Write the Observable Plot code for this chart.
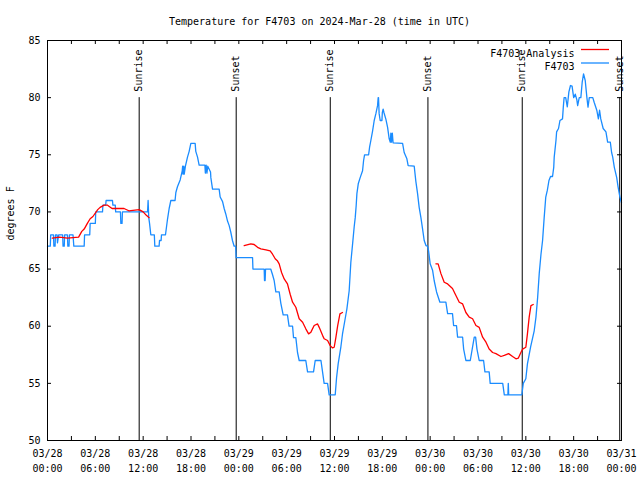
<!DOCTYPE html>
<html>
<head>
<meta charset="utf-8">
<script src="https://cdn.jsdelivr.net/npm/d3@7"></script>
<script src="https://cdn.jsdelivr.net/npm/@observablehq/plot@0.6"></script>
<style>
html,body{margin:0;padding:0;background:#fff;}
</style>
</head>
<body>
<div id="chart"></div>
<script>
// ---- data (hours since 2024-03-28 00:00 UTC) ----
const titleText = "Temperature for F4703 on 2024-Mar-28 (time in UTC)";
const yLabel = "degrees F";
const seriesNames = ["F4703 Analysis", "F4703"];
const seriesColors = ["#ff0000", "#1a8cff"];

const obsHours = [0,0.35,0.4,0.75,0.8,0.95,1.0,1.2,1.25,1.4,1.9,1.95,2.1,2.15,2.5,2.55,2.7,2.75,3.2,3.3,4.6,4.65,5.3,5.35,6.0,6.05,6.9,6.95,7.3,7.35,8.15,8.2,8.5,8.55,9.15,9.2,9.35,9.4,12.55,12.62,12.7,12.8,12.96,13.4,13.46,14.0,14.05,14.25,14.3,14.8,15.06,15.26,15.47,16.0,16.1,16.3,16.64,16.9,16.95,17.0,17.1,17.15,17.3,17.56,17.77,17.98,18.52,18.6,18.82,19.02,19.74,19.8,19.9,20.0,20.1,20.45,20.49,20.7,21.53,21.66,21.96,22.16,22.37,22.58,22.79,23.0,23.2,23.41,23.6,23.66,25.72,25.77,27.18,27.22,27.3,27.35,28.0,28.23,28.43,28.64,29.06,29.27,29.56,30.1,30.3,30.74,30.86,31.15,31.36,31.57,32.4,32.62,33.37,33.58,34.3,34.5,34.7,35.13,35.33,36.09,36.26,36.46,36.8,37.0,37.3,37.55,37.84,38.05,38.27,38.47,38.6,38.72,38.81,38.98,39.22,39.52,39.65,39.77,40.28,40.4,40.56,40.78,40.98,41.19,41.4,41.48,41.52,41.6,41.73,41.95,42.0,42.1,42.2,42.45,42.66,42.86,43.0,43.07,43.15,43.25,43.35,44.54,44.74,45.08,45.24,46.0,46.2,46.42,46.62,46.84,47.05,47.25,47.47,47.68,47.8,48.0,48.3,48.5,48.8,49.22,49.97,50.19,50.8,50.94,51.3,51.44,52.07,52.2,52.48,53.03,53.32,53.53,53.7,53.87,54.15,54.7,54.87,55.4,55.53,57.1,57.3,57.75,57.8,57.85,59.5,59.68,60.0,60.2,60.6,61.05,61.27,61.48,61.68,61.9,62.1,62.3,62.5,62.7,62.9,63.1,63.35,63.5,63.56,63.78,63.86,64.1,64.28,64.6,64.7,64.8,65.0,65.2,65.4,65.6,65.8,66.0,66.2,66.4,66.5,66.7,66.9,67.07,67.24,67.45,67.66,67.8,67.96,68.4,68.57,68.9,69.1,69.25,69.4,69.7,70.05,70.26,70.6,70.76,70.9,71.1,71.4,71.57,71.8,72.0];
const obsTemps = [67,67,68,68,67,67,68,68,67.3,68,68,67,67,68,68,67,67,68,68,67,67,68,68,69,69,70,70,70.6,70.6,71,71,70.6,70.6,70,70,69,69,70,70,71,69.5,69,68,68,67,67,67.5,67.5,68,68,69.4,70.3,71,71,71.7,72.2,72.8,73.6,74,73.3,74,73.3,74,74.8,75.3,76,76,75.3,74.8,74.1,74.1,73.4,74.1,73.4,74,73.5,73,72,72,71.3,70.9,70.3,69.8,69.2,68.8,68.2,67.5,67,67,66,66,65,65,64,64,65,65,64.5,64,63,63,62,61,61,60,60,59,59,57.7,57,57,56,56,57,57,56,55,55,54,54,55.5,56.7,58.2,59.3,60.5,61.5,63.1,65.6,67.2,68.7,69.5,70.56,71.6,72.46,73.0,73.6,74.5,75,75,75.66,76.25,77.1,78,78.6,79.3,80,80,78.6,78,78,78.7,79.0,78.7,78.1,77.4,76.4,76.1,76.9,76.1,76.9,76.05,76,75.2,74.65,74.06,74,72.7,71.6,70.4,69.5,68.5,67.5,67.06,67,66.6,65.46,64.9,64,63,62.1,62.1,61.1,61.1,60.06,60.06,59.04,59.04,58,57,57,58.2,59.04,59.04,58,57,57,56,56,55,55,54,54,55,54,54,55,55.4,56.7,58.2,59.6,60.8,62.5,64.6,66.3,67.5,69.5,71.3,71.9,72.75,73.1,73.1,73.9,74.8,76.25,77.0,77.3,78,78.14,79.17,80,80,79.2,80.5,81.06,81,80,80.3,79.8,79.3,80,80,81.35,82.08,81.5,80,79.17,80,80,79.6,78.9,78.14,78.9,78.14,77.3,77,76.1,76.1,75.2,74.8,73.9,73,72.2,71.3,70.8];

const anaHours = [0.6,1.5,2.5,3.9,4.3,4.6,5.0,5.35,5.7,6.3,6.6,7.1,7.5,7.7,8.1,9.0,9.6,10.2,11.5,12.0,12.4,12.75,
  12.8,
  24.67,25.5,25.92,26.35,26.76,27.4,27.93,28.23,28.56,28.86,29.06,29.36,29.69,30.1,30.44,30.74,31.15,31.57,32.0,32.4,32.75,33.04,33.45,33.88,34.08,34.5,34.7,35.13,35.46,35.76,35.96,36.17,36.4,36.68,37.0,
  37.1,
  48.72,49.0,49.35,49.76,50.19,50.8,51.23,51.65,52.07,52.48,52.9,53.32,53.74,54.15,54.58,55.0,55.4,55.83,56.25,56.88,57.3,57.84,58.34,58.76,59.05,59.38,59.6,60.0,60.2,60.42,60.64,60.93];
const anaTemps = [67.7,67.8,67.7,67.8,68.3,68.5,69.0,69.4,69.6,70.2,70.4,70.6,70.6,70.5,70.3,70.3,70.3,70.1,70.2,70.0,69.7,69.5,
  null,
  67.06,67.2,67.15,66.9,66.77,66.68,66.6,66.3,65.9,65.7,65.45,64.7,64.14,63.7,62.8,62.1,61.66,60.65,60.35,59.77,59.33,59.48,60.06,60.2,59.9,59.2,58.9,58.75,58.3,58.1,58.16,59.0,60.06,61.08,61.2,
  null,
  65.46,65.46,64.6,63.85,63.7,63.3,62.69,62.1,61.95,61.2,60.8,60.65,60.06,59.9,59.04,58.6,58.0,57.7,57.6,57.35,57.44,57.6,57.35,57.15,57.2,57.7,58.0,58.16,59.33,60.8,61.8,61.9];

const sunLabels = ["Sunrise","Sunset","Sunrise","Sunset","Sunrise","Sunset"];
const sunHours = [11.5, 23.67, 35.47, 47.72, 59.55, 71.78];

const yTicks = [50,55,60,65,70,75,80,85];
const xTickStepHours = 3;
const xLabelStepHours = 6;
const totalHours = 72;

// ---- build ----
const base = Date.UTC(2024, 2, 28, 0, 0);
const toDate = h => new Date(base + h * 3600e3);

const obs = obsHours.map((h, i) => ({t: toDate(h), v: obsTemps[i]}));
const ana = anaHours.map((h, i) => ({t: toDate(h), v: anaTemps[i]}));
const sun = sunHours.map((h, i) => ({t: toDate(h), label: sunLabels[i]}));
const xTicks = d3.range(0, totalHours + 0.001, xTickStepHours).map(toDate);
const xLabels = d3.range(0, totalHours + 0.001, xLabelStepHours).map(toDate);

const W = 640, H = 480, mL = 47, mR = 19, mT = 40, mB = 40;
const innerW = W - mL - mR, innerH = H - mT - mB;
const font = "DejaVu Sans Mono";

const chart = Plot.plot({
  width: W, height: H,
  marginLeft: mL, marginRight: mR, marginTop: mT, marginBottom: mB,
  style: {fontFamily: font, fontSize: "10px", background: "#fff", color: "#000", overflow: "visible"},
  x: {type: "utc", domain: [toDate(0), toDate(totalHours)], axis: null},
  y: {domain: [50, 85], axis: null},
  marks: [
    // sunrise / sunset
    Plot.ruleX(sun, {x: "t", y1: 80, y2: 50, stroke: "#000", strokeWidth: 1}),
    Plot.text(sun, {x: "t", y: 80, text: "label", rotate: -90, textAnchor: "start", dy: -6, fill: "#000", fontSize: 10}),
    // series
    Plot.line(obs, {x: "t", y: "v", stroke: seriesColors[1], strokeWidth: 1.3}),
    Plot.line(ana, {x: "t", y: "v", stroke: seriesColors[0], strokeWidth: 1.3}),
    // frame and inward ticks
    Plot.frame({stroke: "#000", strokeWidth: 1}),
    Plot.ruleX(xTicks, {x: d => d, insetTop: innerH - 4, stroke: "#000"}),
    Plot.ruleX(xTicks, {x: d => d, insetBottom: innerH - 4, stroke: "#000"}),
    Plot.ruleY(yTicks, {y: d => d, insetRight: innerW - 4, stroke: "#000"}),
    Plot.ruleY(yTicks, {y: d => d, insetLeft: innerW - 4, stroke: "#000"}),
    // axis labels
    Plot.axisY(yTicks, {anchor: "left", tickSize: 0, tickPadding: 7, label: null, fontSize: 10}),
    Plot.axisX(xLabels, {anchor: "bottom", tickSize: 0, tickPadding: 9, label: null, tickFormat: d3.utcFormat("%m/%d"), fontSize: 10}),
    Plot.axisX(xLabels, {anchor: "bottom", tickSize: 0, tickPadding: 24, label: null, tickFormat: d3.utcFormat("%H:%M"), fontSize: 10}),
    // title & y label
    Plot.text([titleText], {frameAnchor: "top", dx: -15, dy: -23, fill: "#000", fontSize: 10}),
    Plot.text([yLabel], {frameAnchor: "left", dx: -37, rotate: -90, fill: "#000", fontSize: 10}),
    // legend text
    Plot.text([seriesNames[0]], {frameAnchor: "top-right", dx: -47, dy: 9, textAnchor: "end", fill: "#000", fontSize: 10}),
    Plot.text([seriesNames[1]], {frameAnchor: "top-right", dx: -47, dy: 22, textAnchor: "end", fill: "#000", fontSize: 10})
  ]
});

// legend swatches
const svg = d3.select(chart);
[0, 1].forEach(i => {
  svg.append("line")
    .attr("x1", W - mR - 40).attr("x2", W - mR - 12)
    .attr("y1", mT + 9.5 + i * 13.5).attr("y2", mT + 9.5 + i * 13.5)
    .attr("stroke", seriesColors[i]).attr("stroke-width", 1.3);
});

document.getElementById("chart").appendChild(chart);
</script>
</body>
</html>
